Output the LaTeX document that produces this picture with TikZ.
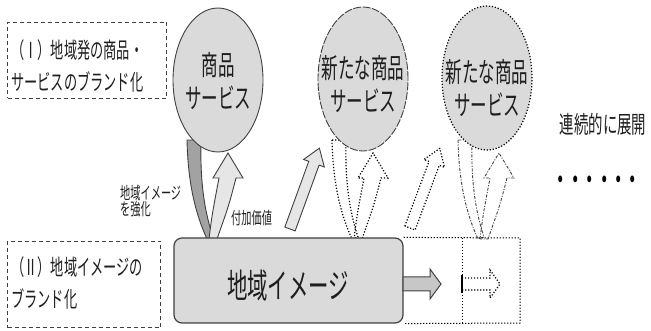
\documentclass[tikz,border=0pt]{standalone}
\usepackage{fontspec}
\newfontfamily\jp[FakeStretch=0.6]{Noto Sans CJK JP}
\usetikzlibrary{shapes.geometric}
\definecolor{lgray}{HTML}{DADADA}
\definecolor{mgray}{HTML}{A2A2A2}
\definecolor{dgray}{HTML}{404040}
\definecolor{agray}{HTML}{E6E6E6}
\definecolor{tcol}{HTML}{1E1E1E}
\newcommand{\blockarr}[7]{% style, start, angle, length, shaft half, head half, head length
  \path[#1, shift={#2}, rotate=#3] (0,-#5) -- ({#4-#7},-#5) -- ({#4-#7},-#6) -- (#4,0)
    -- ({#4-#7},#6) -- ({#4-#7},#5) -- (0,#5) -- cycle;}
\newcommand{\uturn}[3]{% xshift, band style, up-arrow style
  \begin{scope}[xshift=#1pt]
    \path[#2] (187,140) .. controls (188,185) and (196,215) .. (207,239) -- (213,237)
      .. controls (204,210) and (200,180) .. (201,140) -- cycle;
    \path[#3] (209,239) .. controls (212,215) .. (219,178) -- (213,178) -- (228,153)
      -- (243,178) -- (236,178) .. controls (229,205) .. (217,239) -- cycle;
  \end{scope}}
\tikzset{
  bubble/.style={ellipse, minimum width=90pt, minimum height=144pt, inner sep=0pt, fill=lgray},
  bubbletext/.style={font=\jp\fontsize{27.5}{33}\selectfont, align=center, text=tcol, inner sep=0pt},
  labelbox/.style={draw=dgray, line width=1pt, dash pattern=on 4pt off 3pt, inner sep=0pt},
  labeltext/.style={font=\jp\fontsize{22}{32}\selectfont, align=left, text=tcol, inner sep=0pt, anchor=west},
  smalltext/.style={font=\jp\fontsize{17}{16}\selectfont, align=left, text=tcol, inner sep=0pt, anchor=west},
  mainbox/.style={rectangle, rounded corners=8pt, fill=lgray, draw=dgray, line width=1.2pt, inner sep=0pt},
  dotline/.style={draw=black, line width=1.2pt, dash pattern=on 1.2pt off 1.8pt},
  dashdotline/.style={draw=dgray, line width=0.9pt, dash pattern=on 3pt off 1.5pt on 1pt off 1.5pt},
  bandsolid/.style={fill=mgray, draw=dgray, line width=0.9pt},
  upsolid/.style={fill=agray, draw=dgray, line width=0.9pt},
}
\begin{document}
\begin{tikzpicture}[x=1pt, y=-1pt]
\useasboundingbox (0,0) rectangle (651,331);
% label boxes
\node[labelbox, minimum width=159pt, minimum height=76pt, anchor=north west] (b1) at (7,22) {};
\node[labeltext] (b1t) at (11,66) {（Ⅰ）地域発の商品・\\サービスのブランド化};
\node[labelbox, minimum width=153pt, minimum height=86pt, anchor=north west] (b2) at (7,241) {};
\node[labeltext] (b2t) at (11,283) {（Ⅱ）地域イメージの\\ブランド化};
% U-turn arrows under the bubbles
\uturn{0}{bandsolid}{upsolid}
\uturn{145}{dotline}{dotline}
\uturn{271}{dashdotline}{dashdotline}
% diagonal arrows
\blockarr{upsolid}{(290,229)}{70}{86}{5.5}{11}{16}
\blockarr{dotline}{(410,228)}{69.5}{85}{5.5}{11}{16}
% bubbles
\node[bubble, draw=dgray, line width=0.9pt] (e1) at (218,80) {};
\node[bubbletext] (t1) at (218,81) {商品\\サービス};
\node[bubble, draw=dgray, line width=0.9pt, dash pattern=on 8pt off 1.5pt] (e2) at (363,79) {};
\node[bubbletext] (t2) at (363,84) {新たな商品\\サービス};
\node[bubble, dotline] (e3) at (487,78) {};
\node[bubbletext] (t3) at (487,88) {新たな商品\\サービス};
% main box
\node[mainbox, minimum width=229pt, minimum height=85pt] (img) at (288.5,280.5) {};
\node[font=\jp\fontsize{34}{34}\selectfont, text=tcol, inner sep=0pt] (imgt) at (288,286) {地域イメージ};
\coordinate (ext1) at (520,238);
\coordinate (ext2) at (520,323);
\coordinate (mid1) at (462,238);
\coordinate (mid2) at (462,323);
\draw[dotline, line width=1pt] (img.north east) -- (ext1) -- (ext2) -- (img.south east);
\draw[dotline, line width=1pt] (mid1) -- (mid2);
% right arrows
\blockarr{fill=mgray!60, draw=dgray, line width=1pt}{(403,284)}{0}{38}{7}{15}{11}
\blockarr{dotline}{(462,284)}{0}{38}{6}{14}{10}
\draw[black, line width=2pt] (462,275) -- (462,293);
% small labels
\node[smalltext] (l1) at (120,201) {地域イメージ\\を強化};
\node[smalltext] (l2) at (231,218) {付加価値};
% right side text
\node[font=\jp\fontsize{24}{24}\selectfont, text=tcol, inner sep=0pt] (cont) at (603,124) {連続的に展開};
\node[font=\jp\bfseries\fontsize{24}{24}\selectfont, text=black, inner sep=0pt] (dots) at (597,182) {・・・・・・};
\end{tikzpicture}
\end{document}
